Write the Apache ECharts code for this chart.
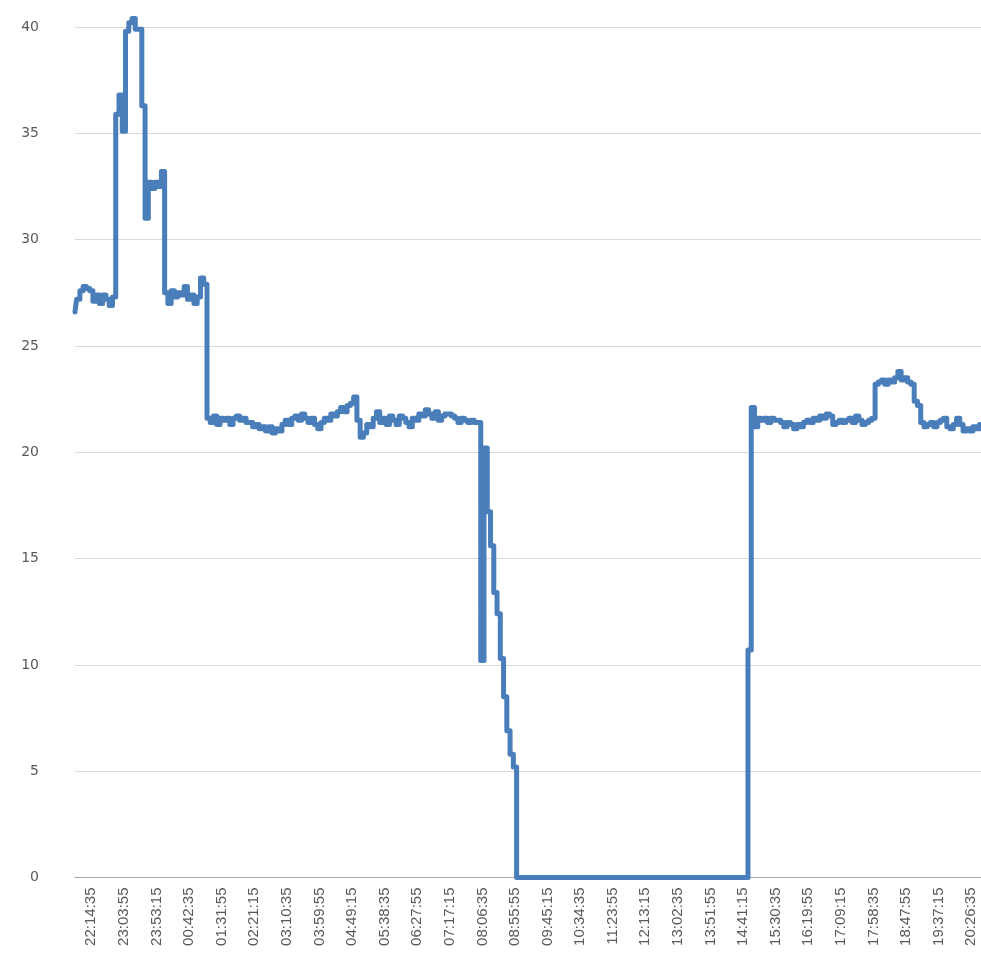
<!DOCTYPE html>
<html>
<head>
<meta charset="utf-8">
<script src="https://cdn.jsdelivr.net/npm/echarts@6/dist/echarts.min.js"></script>
<style>
  html, body { margin: 0; padding: 0; background: #ffffff; }
  #chart { width: 981px; height: 953px; }
</style>
</head>
<body>
<div id="chart"></div>
<script>
// Sampling: one reading every 296 s, first reading at 21:49:55
const startTime = '21:49:55';
const stepSeconds = 296;

// Readings, in order
const risingPhase = [
  26.6, 27.2, 27.6, 27.8, 27.7, 27.6, 27.1, 27.4, 27.0, 27.4,
  27.2, 26.9, 27.3, 35.9, 36.8, 35.1, 39.8, 40.2, 40.4, 39.9,
  39.9, 36.3, 31.0, 32.7, 32.4, 32.7, 32.5, 33.2, 27.5, 27.0,
  27.6, 27.3, 27.5, 27.4, 27.8, 27.2, 27.4, 27.0, 27.3, 28.2,
  27.9
];
const steadyNight = [
  21.6, 21.4, 21.7, 21.3, 21.6, 21.5, 21.6, 21.3, 21.6, 21.7,
  21.5, 21.6, 21.4, 21.4, 21.2, 21.3, 21.1, 21.2, 21.0, 21.2,
  20.9, 21.1, 21.0, 21.3, 21.5, 21.3, 21.6, 21.7, 21.5, 21.8,
  21.6, 21.4, 21.6, 21.3, 21.1, 21.4, 21.6, 21.5, 21.8, 21.7,
  21.9, 22.1, 21.9, 22.2, 22.3, 22.6, 21.5, 20.7, 20.9, 21.3,
  21.2, 21.6, 21.9, 21.4, 21.6, 21.3, 21.7, 21.5, 21.3, 21.7,
  21.6, 21.4, 21.2, 21.6, 21.5, 21.8, 21.7, 22.0, 21.8, 21.6,
  21.9, 21.5, 21.7, 21.8, 21.8, 21.7, 21.6, 21.4, 21.6, 21.5,
  21.4, 21.5, 21.4, 21.4
];
const fallingPhase = [
  10.2, 20.2, 17.2, 15.6, 13.4, 12.4, 10.3, 8.5, 6.9, 5.8,
  5.2
];
const offPeriod = [
  0, 0, 0, 0, 0, 0, 0, 0, 0, 0,
  0, 0, 0, 0, 0, 0, 0, 0, 0, 0,
  0, 0, 0, 0, 0, 0, 0, 0, 0, 0,
  0, 0, 0, 0, 0, 0, 0, 0, 0, 0,
  0, 0, 0, 0, 0, 0, 0, 0, 0, 0,
  0, 0, 0, 0, 0, 0, 0, 0, 0, 0,
  0, 0, 0, 0, 0, 0, 0, 0, 0, 0,
  0
];
const restartPhase = [
  10.7, 22.1, 21.2, 21.6, 21.5, 21.6, 21.4, 21.6, 21.5, 21.5,
  21.4, 21.2, 21.4, 21.3, 21.1, 21.3, 21.2, 21.4, 21.5, 21.4,
  21.6, 21.5, 21.7, 21.6, 21.8, 21.7, 21.3, 21.4, 21.5, 21.4,
  21.5, 21.6, 21.4, 21.7, 21.5, 21.3, 21.4, 21.5, 21.6, 23.2,
  23.3, 23.4, 23.2, 23.4, 23.3, 23.5, 23.8, 23.4, 23.5, 23.3,
  23.2, 22.4, 22.2, 21.4, 21.2, 21.3, 21.4, 21.2, 21.4, 21.5,
  21.6, 21.2, 21.1, 21.3, 21.6, 21.3, 21.0, 21.1, 21.0, 21.2,
  21.1, 21.3
];

const values = [].concat(risingPhase, steadyNight, fallingPhase, offPeriod, restartPhase);

// Axis values
const yMin = 0, yMax = 40, yStep = 5;
const labelEvery = 10;   // a time label every 49:20
const labelOffset = 5;   // first label at 22:14:35

function clockAt(index) {
  const [h, m, s] = startTime.split(':').map(Number);
  let t = (h * 3600 + m * 60 + s + index * stepSeconds) % 86400;
  const hh = Math.floor(t / 3600), mm = Math.floor((t % 3600) / 60), ss = t % 60;
  return [hh, mm, ss].map(v => String(v).padStart(2, '0')).join(':');
}
const times = values.map((_, i) => clockAt(i));

const chart = echarts.init(document.getElementById('chart'), null, { renderer: 'canvas' });
chart.setOption({
  animation: false,
  backgroundColor: '#ffffff',
  grid: { left: 75, right: 0, top: 27, bottom: 75.5, containLabel: false },
  xAxis: {
    type: 'category',
    data: times,
    boundaryGap: false,
    axisLine: { show: true, lineStyle: { color: '#a6a6a6', width: 1 } },
    axisTick: { show: false },
    splitLine: { show: false },
    axisLabel: {
      rotate: 90,
      margin: 10,
      interval: (index) => index % labelEvery === labelOffset,
      color: '#595959',
      fontSize: 15,
      fontFamily: '"Liberation Sans Narrow", "Liberation Sans", Arial, sans-serif'
    }
  },
  yAxis: {
    type: 'value',
    min: yMin,
    max: yMax,
    interval: yStep,
    axisLine: { show: false },
    axisTick: { show: false },
    splitLine: { show: true, lineStyle: { color: '#d9d9d9', width: 1 } },
    axisLabel: {
      margin: 36,
      color: '#595959',
      fontSize: 14,
      fontFamily: '"DejaVu Sans", "Open Sans", sans-serif'
    }
  },
  series: [{
    type: 'line',
    data: values,
    step: 'middle',
    clip: false,
    showSymbol: false,
    symbol: 'none',
    sampling: null,
    lineStyle: { color: '#4a7ebb', width: 5, join: 'round', cap: 'round' }
  }]
});
</script>
</body>
</html>
